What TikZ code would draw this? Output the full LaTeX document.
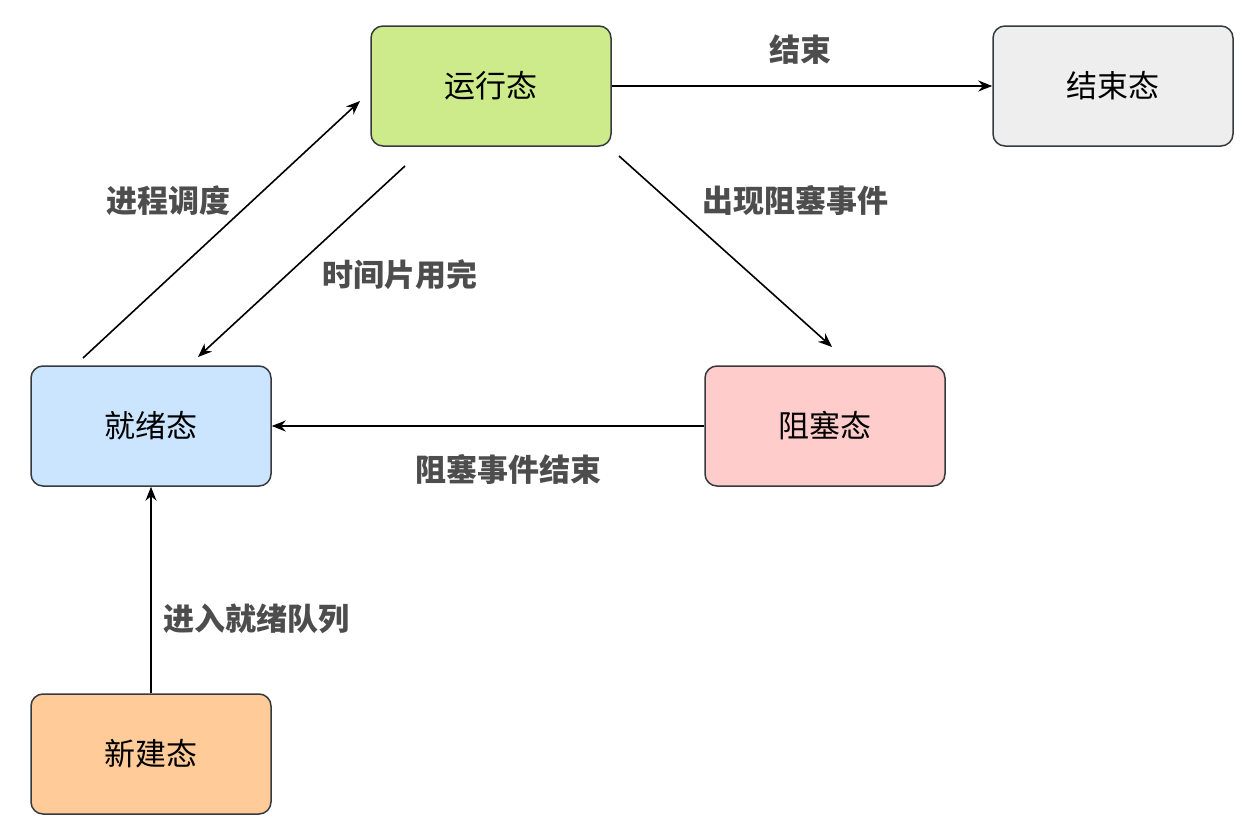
\documentclass[tikz,border=0pt]{standalone}
\usepackage{fontspec}
\setmainfont{Noto Sans CJK SC}
\usetikzlibrary{arrows.meta}
\definecolor{strk}{HTML}{36393D}
\definecolor{lbl}{HTML}{4D4D4D}
\definecolor{cg}{HTML}{CDEB8B}
\definecolor{cy}{HTML}{EEEEEE}
\definecolor{cb}{HTML}{CCE5FF}
\definecolor{cp}{HTML}{FFCCCC}
\definecolor{co}{HTML}{FFCC99}
\begin{document}
\begin{tikzpicture}[x=1pt,y=-1pt,
  st/.style={draw=strk,line width=1.5pt,rounded corners=12pt,minimum width=240pt,minimum height=120pt,inner sep=0pt,font=\fontsize{31}{34}\selectfont},
  ar/.style={-{Stealth[length=14pt,width=11pt]},line width=1.6pt,black},
  lb/.style={text=lbl,font=\fontsize{31}{34}\selectfont\bfseries}]
\useasboundingbox (0,0) rectangle (1254,835);
\node[st,fill=cg] (run) at (491,86) {运行态};
\node[st,fill=cy] (end) at (1113,86) {结束态};
\node[st,fill=cb] (ready) at (151,426) {就绪态};
\node[st,fill=cp] (block) at (825,426) {阻塞态};
\node[st,fill=co] (new) at (151,754) {新建态};
\coordinate (a1) at (83,358); \coordinate (a2) at (360,101);
\coordinate (b1) at (405,166); \coordinate (b2) at (198,357);
\coordinate (c1) at (619,156); \coordinate (c2) at (832,347);
\draw[ar] (run) -- (end);
\draw[ar] (a1) -- (a2);
\draw[ar] (b1) -- (b2);
\draw[ar] (c1) -- (c2);
\draw[ar] (block) -- (ready);
\draw[ar] (new) -- (ready);
\node[lb] (l1) at (800,50) {结束};
\node[lb] (l2) at (795,201) {出现阻塞事件};
\node[lb] (l3) at (168,201) {进程调度};
\node[lb] (l4) at (400,275) {时间片用完};
\node[lb] (l5) at (508,469) {阻塞事件结束};
\node[lb] (l6) at (256,619) {进入就绪队列};
\end{tikzpicture}
\end{document}
